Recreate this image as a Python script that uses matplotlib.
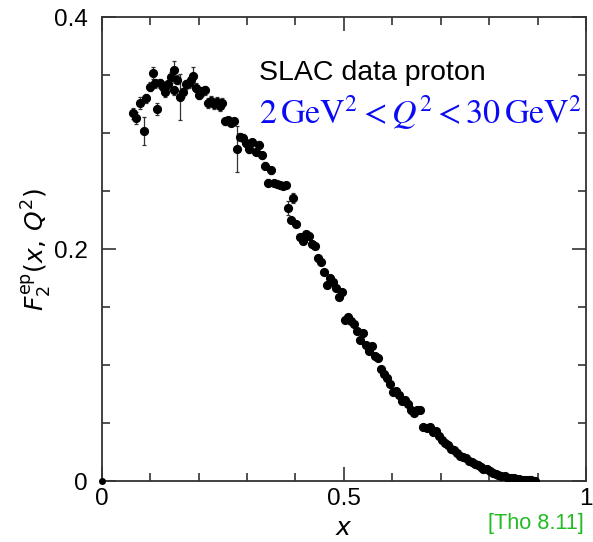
import matplotlib
matplotlib.use('Agg')
import matplotlib.pyplot as plt
from matplotlib.ticker import MultipleLocator

# valores (SLAC, proton)
x_vals = [0.065, 0.071, 0.079, 0.087, 0.091, 0.100, 0.106, 0.110, 0.114, 0.120,
          0.127, 0.131, 0.137, 0.143, 0.149, 0.149, 0.155, 0.162, 0.168, 0.174,
          0.180, 0.184, 0.189, 0.195, 0.201, 0.207, 0.214, 0.220, 0.226, 0.232,
          0.238, 0.244, 0.248, 0.254, 0.261, 0.267, 0.273, 0.279, 0.285, 0.292,
          0.298, 0.304, 0.310, 0.318, 0.325, 0.331, 0.337, 0.343, 0.349, 0.356,
          0.362, 0.368, 0.374, 0.380, 0.384, 0.391, 0.395, 0.401, 0.409, 0.415,
          0.421, 0.428, 0.434, 0.440, 0.446, 0.452, 0.458, 0.465, 0.471, 0.477,
          0.483, 0.489, 0.496, 0.502, 0.508, 0.514, 0.520, 0.526, 0.533, 0.539,
          0.545, 0.551, 0.557, 0.564, 0.570, 0.576, 0.582, 0.589, 0.595, 0.601,
          0.607, 0.613, 0.619, 0.626, 0.632, 0.638, 0.644, 0.650, 0.656, 0.664,
          0.671, 0.677, 0.683, 0.689, 0.696, 0.702, 0.708, 0.714, 0.720, 0.727,
          0.733, 0.739, 0.745, 0.751, 0.758, 0.764, 0.770, 0.776, 0.782, 0.788,
          0.795, 0.801, 0.807, 0.813, 0.819, 0.825, 0.832, 0.838, 0.844, 0.850,
          0.856, 0.862, 0.869, 0.875, 0.881, 0.887, 0.895]
f2_vals = [0.317, 0.313, 0.326, 0.302, 0.330, 0.340, 0.352, 0.343, 0.321, 0.343,
           0.340, 0.335, 0.342, 0.348, 0.354, 0.337, 0.346, 0.331, 0.335, 0.342,
           0.343, 0.346, 0.349, 0.339, 0.333, 0.336, 0.337, 0.326, 0.328, 0.325,
           0.327, 0.323, 0.326, 0.310, 0.311, 0.309, 0.310, 0.286, 0.297, 0.296,
           0.291, 0.286, 0.292, 0.284, 0.290, 0.281, 0.272, 0.257, 0.268, 0.257,
           0.256, 0.255, 0.254, 0.255, 0.235, 0.225, 0.244, 0.222, 0.210, 0.207,
           0.213, 0.211, 0.204, 0.203, 0.192, 0.189, 0.180, 0.169, 0.175, 0.172,
           0.166, 0.159, 0.163, 0.139, 0.141, 0.138, 0.135, 0.129, 0.122, 0.128,
           0.117, 0.112, 0.116, 0.108, 0.106, 0.097, 0.092, 0.089, 0.084, 0.077,
           0.078, 0.074, 0.069, 0.070, 0.066, 0.061, 0.059, 0.061, 0.061, 0.047,
           0.046, 0.047, 0.042, 0.043, 0.039, 0.035, 0.033, 0.031, 0.028, 0.027,
           0.024, 0.022, 0.021, 0.020, 0.017, 0.016, 0.015, 0.014, 0.012, 0.010,
           0.010, 0.009, 0.007, 0.006, 0.005, 0.004, 0.004, 0.003, 0.003, 0.003,
           0.002, 0.002, 0.001, 0.001, 0.001, 0.0005, 0.0]
# barras de erro: pequenas em geral, algumas maiores
f2_err = [0.005, 0.005, 0.005, 0.012, 0.004, 0.004, 0.005, 0.004, 0.005, 0.004,
          0.004, 0.004, 0.004, 0.005, 0.008, 0.004, 0.004, 0.020, 0.004, 0.004,
          0.004, 0.004, 0.008, 0.004, 0.004, 0.004, 0.004, 0.004, 0.004, 0.004,
          0.004, 0.004, 0.004, 0.003, 0.003, 0.003, 0.003, 0.020, 0.003, 0.003,
          0.003, 0.003, 0.003, 0.003, 0.003, 0.003, 0.003, 0.003, 0.003, 0.002,
          0.002, 0.002, 0.002, 0.002, 0.006, 0.002, 0.004, 0.002, 0.002, 0.002] + [0.0015] * 77

plt.rcParams['font.family'] = ['Liberation Sans', 'DejaVu Sans']
plt.rcParams['mathtext.fontset'] = 'dejavusans'

fig = plt.figure(figsize=(5.93, 5.42), dpi=100)
ax = fig.add_axes([0.1715, 0.1125, 0.817, 0.856])

ax.errorbar(x_vals, f2_vals, yerr=f2_err, fmt='o', color='black', ms=5.6,
            ecolor='#333333', elinewidth=0.9, capsize=1.5, capthick=0.9, zorder=3)
ax.plot([0], [0], 'o', color='black', ms=4, clip_on=False, zorder=4)

ax.set_xlim(0, 1)
ax.set_ylim(0, 0.4)
ax.set_xticks([0, 0.5, 1])
ax.set_xticklabels(['0', '0.5', '1'])
ax.set_yticks([0, 0.2, 0.4])
ax.set_yticklabels(['0', '0.2', '0.4'])
ax.xaxis.set_minor_locator(MultipleLocator(0.1))
ax.yaxis.set_minor_locator(MultipleLocator(0.05))
ax.tick_params(which='both', direction='in', top=True, right=True,
               colors='#333333', labelcolor='black', labelsize=17.5, width=1.2)
ax.tick_params(which='major', length=10)
ax.tick_params(which='minor', length=6)
ax.tick_params(axis='x', which='major', pad=5)
ax.tick_params(axis='y', which='major', pad=10)
for s in ax.spines.values():
    s.set_color('#333333')
    s.set_linewidth(1.3)

ax.set_xlabel('$x$', fontsize=18, labelpad=4)
ax.set_ylabel(r'$F_2^{\rm ep}(x,\, Q^2)$', fontsize=18, labelpad=0)

ax.text(0.325, 0.88, 'SLAC data proton', transform=ax.transAxes,
        fontsize=20.5, va='center', ha='left')
ax.text(0.325, 0.793, r'$2\,\mathrm{GeV}^2 < Q^2 < 30\,\mathrm{GeV}^2$',
        transform=ax.transAxes, fontsize=24.5, va='center', ha='left',
        color='#0a0af5', math_fontfamily='stix')
fig.text(0.985, 0.035, '[Tho 8.11]', color='#22bb22', fontsize=15.6,
         ha='right', va='center')

fig.savefig('out.png', dpi=100)
